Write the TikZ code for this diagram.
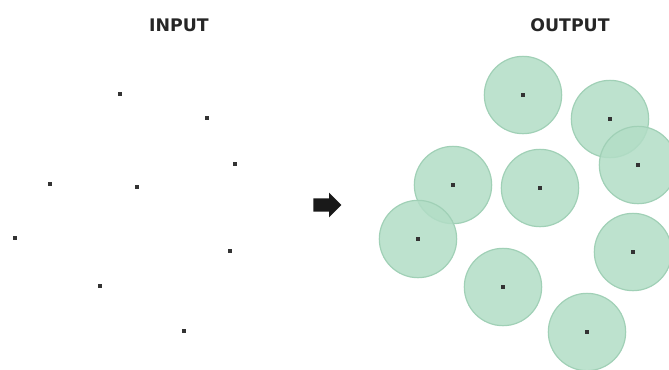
\documentclass[tikz,border=0pt]{standalone}
\usepackage{fontspec}
\newfontfamily\titlefont{DejaVu Sans}
\usetikzlibrary{shapes.arrows}
\definecolor{buffill}{RGB}{178,221,198}
\definecolor{bufedge}{RGB}{160,208,182}
\begin{document}
\begin{tikzpicture}[x=0.75pt,y=-0.75pt,
        title/.style={font=\titlefont\bfseries\fontsize{13}{15}\selectfont, text=black!85},
        site/.style={rectangle, fill=black!80, inner sep=0pt, minimum size=2.4pt},
        buffer/.style={circle, fill=buffill, draw=bufedge, line width=0.9pt, fill opacity=0.85, inner sep=0pt, minimum size=58pt}
    ]
    \useasboundingbox (0,0) rectangle (669,369);
    % titles
    \node[title] (in-title) at (179,25) {INPUT};
    \node[title] (out-title) at (570,25) {OUTPUT};
    % input sites and their buffers
    \foreach \x/\y [count=\i] in {120/94, 207/118, 235/164, 50/184, 137/187, 15/238, 230/251, 100/286, 184/331} {
        \node[buffer] (buf-\i) at (\x+403,\y+1) {};
    }
    \foreach \x/\y [count=\i] in {120/94, 207/118, 235/164, 50/184, 137/187, 15/238, 230/251, 100/286, 184/331} {
        \node[site] (in-\i) at (\x,\y) {};
        \node[site] (out-\i) at (buf-\i.center) {};
    }
    % arrow
    \node[single arrow, fill=black!90, inner sep=4.8pt, minimum height=21pt, single arrow head extend=4.2pt] (step-arrow) at (324,205) {};
\end{tikzpicture}
\end{document}
